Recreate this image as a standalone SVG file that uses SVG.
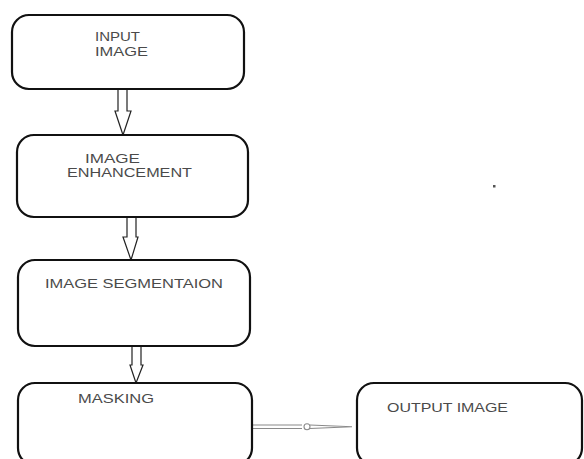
<svg xmlns="http://www.w3.org/2000/svg" width="584" height="459" viewBox="0 0 584 459">
<style>
.box{fill:#fff;stroke:#111;stroke-width:2.2}
.t{font-family:"Liberation Sans",Arial,sans-serif;font-size:12.5px;fill:#4a4a4a}
.arr{fill:#fff;stroke:#222;stroke-width:1.2;stroke-linejoin:miter}
.h{fill:none;stroke:#8a8a8a;stroke-width:1.1}
</style>
<rect width="584" height="459" fill="#fff"/>
<g id="connectors">
<polygon class="arr" points="118,89 127,89 127,111 131,111 123,135 115,111 118,111"/>
<polygon class="arr" points="127,217 136,217 136,237 138,237 131,260 123,237 127,237"/>
<polygon class="arr" points="132,346 141,346 141,365 143,365 136,383 130,365 132,365"/>
<g id="edge-mask-output">
<path class="h" d="M252,425 H302 M252,428.5 H302"/>
<circle class="h" cx="307" cy="426.8" r="3"/>
<path class="h" d="M310,425 L352,426.8 L310,428.5"/>
</g>
</g>
<g id="n-input">
<rect class="box" x="12" y="15" width="232" height="74" rx="17"/>
<text class="t" x="95" y="41" textLength="45" lengthAdjust="spacingAndGlyphs">INPUT</text>
<text class="t" x="95" y="56" textLength="53" lengthAdjust="spacingAndGlyphs">IMAGE</text>
</g>
<g id="n-enh">
<rect class="box" x="17" y="135" width="231" height="82" rx="17"/>
<text class="t" x="85" y="163" textLength="55" lengthAdjust="spacingAndGlyphs">IMAGE</text>
<text class="t" x="67" y="177" textLength="125" lengthAdjust="spacingAndGlyphs">ENHANCEMENT</text>
</g>
<g id="n-seg">
<rect class="box" x="18" y="260" width="232" height="86" rx="17"/>
<text class="t" x="45" y="288" textLength="178" lengthAdjust="spacingAndGlyphs">IMAGE SEGMENTAION</text>
</g>
<g id="n-mask">
<rect class="box" x="18" y="383" width="234" height="82" rx="17"/>
<text class="t" x="78" y="403" textLength="76" lengthAdjust="spacingAndGlyphs">MASKING</text>
</g>
<g id="n-output">
<rect class="box" x="357" y="383" width="225" height="82" rx="17"/>
<text class="t" x="387" y="412" textLength="121" lengthAdjust="spacingAndGlyphs">OUTPUT IMAGE</text>
</g>
<rect x="493" y="185" width="2.5" height="2.5" fill="#555"/>
</svg>
